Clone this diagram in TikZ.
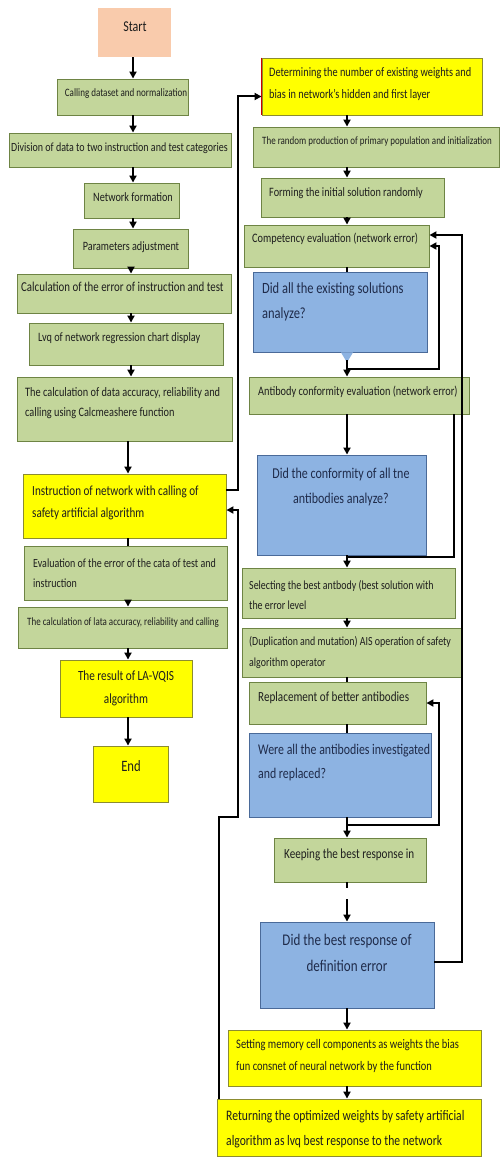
\documentclass[tikz,border=0pt]{standalone}
\usepackage{fontspec}
\setmainfont{Carlito}[FakeStretch=0.8]
\usetikzlibrary{arrows.meta,calc}
\definecolor{gfill}{HTML}{C3D69B}
\definecolor{gline}{HTML}{6E8444}
\definecolor{bfill}{HTML}{8DB3E2}
\definecolor{bline}{HTML}{4A6A99}
\definecolor{yfill}{HTML}{FFFF00}
\definecolor{yline}{HTML}{8C8C30}
\definecolor{pfill}{HTML}{F9CBAC}
\definecolor{txtc}{HTML}{1E1E1E}
\definecolor{btxt}{HTML}{1F2B4A}
\newcommand{\fsz}[2]{\fontsize{#1}{#2}\selectfont}
\begin{document}
\begin{tikzpicture}[x=1pt,y=-1pt,
  box/.style={rectangle, inner sep=0pt, line width=0.9pt},
  gbox/.style={box, draw=gline, fill=gfill},
  bbox/.style={box, draw=bline, fill=bfill},
  ybox/.style={box, draw=yline, fill=yfill},
  pbox/.style={box, fill=pfill},
  tx/.style={inner sep=0pt, text=txtc, align=left},
  btx/.style={inner sep=0pt, text=btxt, align=left},
  arr/.style={line width=2pt, -{Triangle[width=7pt,length=7pt]}},
  con/.style={line width=2pt},
]
\fill[white] (0,0) rectangle (501,1158);
\useasboundingbox (0,0) rectangle (501,1158);

% ---------- left column boxes ----------
\node[pbox, minimum width=73pt, minimum height=49pt] (start) at (134.5,32.5) {};
\node[gbox, minimum width=131pt, minimum height=36pt] (calling) at (122.5,97) {};
\node[gbox, minimum width=222pt, minimum height=34pt] (division) at (120,150) {};
\node[gbox, minimum width=95pt, minimum height=35pt] (netf) at (131.5,200.5) {};
\node[gbox, minimum width=115pt, minimum height=39pt] (param) at (130.5,248.5) {};
\node[gbox, minimum width=214pt, minimum height=39pt] (calcerr) at (124,293.5) {};
\node[gbox, minimum width=194pt, minimum height=42pt] (lvq) at (126,344) {};
\node[gbox, minimum width=215pt, minimum height=64pt] (calcdata) at (124.5,409) {};
\node[ybox, minimum width=203pt, minimum height=64pt] (instr) at (124.5,506) {};
\node[gbox, minimum width=203pt, minimum height=54pt] (eval) at (125.5,573) {};
\node[gbox, minimum width=209pt, minimum height=41pt] (calclata) at (122.5,627.5) {};
\node[ybox, minimum width=132pt, minimum height=57pt] (result) at (126,688.5) {};
\node[ybox, minimum width=75pt, minimum height=56pt] (end) at (130.5,774) {};

% ---------- right column boxes ----------
\node[ybox, minimum width=220pt, minimum height=57pt] (determ) at (372,86.5) {};
\draw[red!80!black, line width=1pt] (determ.north west) -- (determ.south west);
\node[gbox, minimum width=246pt, minimum height=40pt] (random) at (376,147) {};
\node[gbox, minimum width=183pt, minimum height=39pt] (forming) at (352.5,197.5) {};
\node[gbox, minimum width=185pt, minimum height=42pt] (compet) at (336.5,246) {};
\node[bbox, minimum width=174pt, minimum height=80pt] (didall) at (340,312) {};
\node[gbox, minimum width=220pt, minimum height=37pt] (antib) at (359,395.5) {};
\node[bbox, minimum width=169pt, minimum height=100pt] (didconf) at (341.5,505) {};
\node[gbox, minimum width=213pt, minimum height=50pt] (select) at (348.5,593) {};
\node[gbox, minimum width=219pt, minimum height=49pt] (dup) at (351.5,652.5) {};
\node[gbox, minimum width=177pt, minimum height=42pt] (repl) at (337.5,703) {};
\node[bbox, minimum width=182pt, minimum height=84pt] (wereall) at (340,775) {};
\node[gbox, minimum width=152pt, minimum height=44pt] (keep) at (350,860) {};
\node[bbox, minimum width=174pt, minimum height=86pt] (didbest) at (347,965) {};
\node[ybox, minimum width=253pt, minimum height=56pt] (setting) at (354.5,1058) {};
\node[ybox, minimum width=264pt, minimum height=57pt] (return) at (349,1127.5) {};

% ---------- texts ----------
\node[tx, font=\fsz{15}{17}] (startt) at (135,27) {Start};
\node[tx, font=\fsz{11.3}{13}] (callingt) at (126,94) {Calling dataset and normalization};
\node[tx, font=\fsz{12.5}{14}, anchor=west] (divisiont) at (11,148) {Division of data to two instruction and test categories};
\node[tx, font=\fsz{12.8}{15}] (netft) at (133,197) {Network formation};
\node[tx, font=\fsz{12.7}{15}] (paramt) at (131,247) {Parameters adjustment};
\node[tx, font=\fsz{13.6}{16}, anchor=west] (calcerrt) at (21,287) {Calculation of the error of instruction and test};
\node[tx, font=\fsz{12.8}{15}, anchor=west] (lvqt) at (38,338) {Lvq of network regression chart display};
\node[tx, font=\fsz{12.9}{20}, anchor=west] (calcdatat) at (25,403) {The calculation of data accuracy, reliability and\\calling using Calcmeashere function};
\node[tx, font=\fsz{13.9}{22}, anchor=west] (instrt) at (32,503) {Instruction of network with calling of\\safety artificial algorithm};
\node[tx, font=\fsz{12.5}{20}, anchor=west] (evalt) at (33,573) {Evaluation of the error of the cata of test and\\instruction};
\node[tx, font=\fsz{11.2}{13}, anchor=west] (calclatat) at (27,623) {The calculation of lata accuracy, reliability and calling};
\node[tx, font=\fsz{14}{23}, align=center] (resultt) at (126,688) {The result of LA-VQIS\\algorithm};
\node[tx, font=\fsz{15.8}{18}] (endt) at (131,766) {End};

\node[tx, font=\fsz{12.9}{22}, anchor=west] (determt) at (269,84) {Determining the number of existing weights and\\bias in network's hidden and first layer};
\node[tx, font=\fsz{11.2}{13}, anchor=west] (randomt) at (262,142) {The random production of primary population and initialization};
\node[tx, font=\fsz{12.8}{15}, anchor=west] (formingt) at (269,193) {Forming the initial solution randomly};
\node[tx, font=\fsz{12.9}{15}, anchor=west] (compett) at (252,239) {Competency evaluation (network error)};
\node[btx, font=\fsz{15.6}{25}, anchor=west] (didallt) at (262,302) {Did all the existing solutions\\analyze?};
\node[tx, font=\fsz{12.9}{15}, anchor=west] (antibt) at (258,392) {Antibody conformity evaluation (network error)};
\node[btx, font=\fsz{15}{25}, align=center] (didconft) at (341,487) {Did the conformity of all tne\\antibodies analyze?};
\node[tx, font=\fsz{12.4}{20}, anchor=west] (selectt) at (249,595) {Selecting the best antbody (best solution with\\the error level};
\node[tx, font=\fsz{12.4}{21}, anchor=west] (dupt) at (249,653) {(Duplication and mutation) AIS operation of safety\\algorithm operator};
\node[tx, font=\fsz{13.9}{16}, anchor=west] (replt) at (258,698) {Replacement of better antibodies};
\node[btx, font=\fsz{14.8}{24}, anchor=west] (wereallt) at (258,763) {Were all the antibodies investigated\\and replaced?};
\node[tx, font=\fsz{13.9}{16}, anchor=west] (keept) at (284,855) {Keeping the best response in};
\node[btx, font=\fsz{16.3}{26}, align=center] (didbestt) at (347,953) {Did the best response of\\definition error};
\node[tx, font=\fsz{13.1}{22}, anchor=west] (settingt) at (236,1056) {Setting memory cell components as weights the bias\\fun consnet of neural network by the function};
\node[tx, font=\fsz{14.5}{25}, anchor=west] (returnt) at (226,1129) {Returning the optimized weights by safety artificial\\algorithm as lvq best response to the network};

% ---------- left column connectors ----------
\coordinate (La) at (133,0);
\coordinate (Lb) at (131,0);
\coordinate (Lc) at (128,0);
\draw[arr] (start.south -| La) -- (calling.north -| La);
\draw[arr] (calling.south -| La) -- (division.north -| La);
\draw[arr] (division.south -| La) -- (netf.north -| La);
\draw[arr] (netf.south -| La) -- (param.north -| La);
\draw[arr] (param.south -| Lb) -- (calcerr.north -| Lb);
\draw[arr] (calcerr.south -| Lb) -- (lvq.north -| Lb);
\draw[arr] (lvq.south -| Lb) -- (calcdata.north -| Lb);
\draw[arr] (calcdata.south -| Lc) -- (instr.north -| Lc);
\draw[con] (instr.south -| Lc) -- (eval.north -| Lc);
\draw[arr] (eval.south -| Lc) -- (calclata.north -| Lc);
\draw[arr] (calclata.south -| Lc) -- (result.north -| Lc);
\draw[arr] (result.south -| Lc) -- (end.north -| Lc);

% ---------- right column connectors ----------
\coordinate (Rx) at (347,0);
\fill[bfill] ($(didall.south -| Rx)+(-6,0)$) -- ($(didall.south -| Rx)+(6,0)$) -- ($(didall.south -| Rx)+(0,10)$) -- cycle;
\draw[arr] (determ.south -| Rx) -- (random.north -| Rx);
\draw[arr] (random.south -| Rx) -- (forming.north -| Rx);
\draw[arr] (forming.south -| Rx) -- (compet.north -| Rx);
\draw[con] (compet.south -| Rx) -- (didall.north -| Rx);
\draw[arr] ($(didall.south -| Rx)+(0,8)$) -- (antib.north -| Rx);
\draw[arr] (antib.south -| Rx) -- (didconf.north -| Rx);
\draw[arr] (didconf.south -| Rx) -- (select.north -| Rx);
\draw[arr] (select.south -| Rx) -- (dup.north -| Rx);
\draw[con] (dup.south -| Rx) -- (repl.north -| Rx);
\draw[con] (repl.south -| Rx) -- (wereall.north -| Rx);
\draw[arr] (wereall.south -| Rx) -- (keep.north -| Rx);
\draw[con] (keep.south -| Rx) -- ++(0,6);
\coordinate (k1) at ($(keep.south -| Rx)+(0,17)$);
\draw[arr] (k1) -- (didbest.north -| Rx);
\draw[arr] (didbest.south -| Rx) -- (setting.north -| Rx);
\draw[arr] (setting.south -| Rx) -- (return.north -| Rx);

% loops
\coordinate (j1) at ($(didall.south -| Rx)+(0,17)$);
\draw[arr] (j1) -- ++(92,0) |- (compet.east);
\draw[arr] ([yshift=3pt]didbest.east) -- ++(28,0) |- ([yshift=11pt]compet.east);
\draw[con] ([xshift=95pt]antib.south) |- ($(didconf.south -| Rx)+(0,2)$);
\coordinate (j3) at ($(wereall.south -| Rx)+(0,8)$);
\draw[arr] (j3) -- ++(92,0) |- (repl.east);
\draw[arr] ([yshift=16pt]instr.east) -- ++(12,0) |- ([yshift=-10pt]determ.west);
\draw[arr] ([xshift=2pt]return.north west) -- ++(0,-282) -- ++(19,0) |- ([yshift=-4pt]instr.east);
\end{tikzpicture}
\end{document}
